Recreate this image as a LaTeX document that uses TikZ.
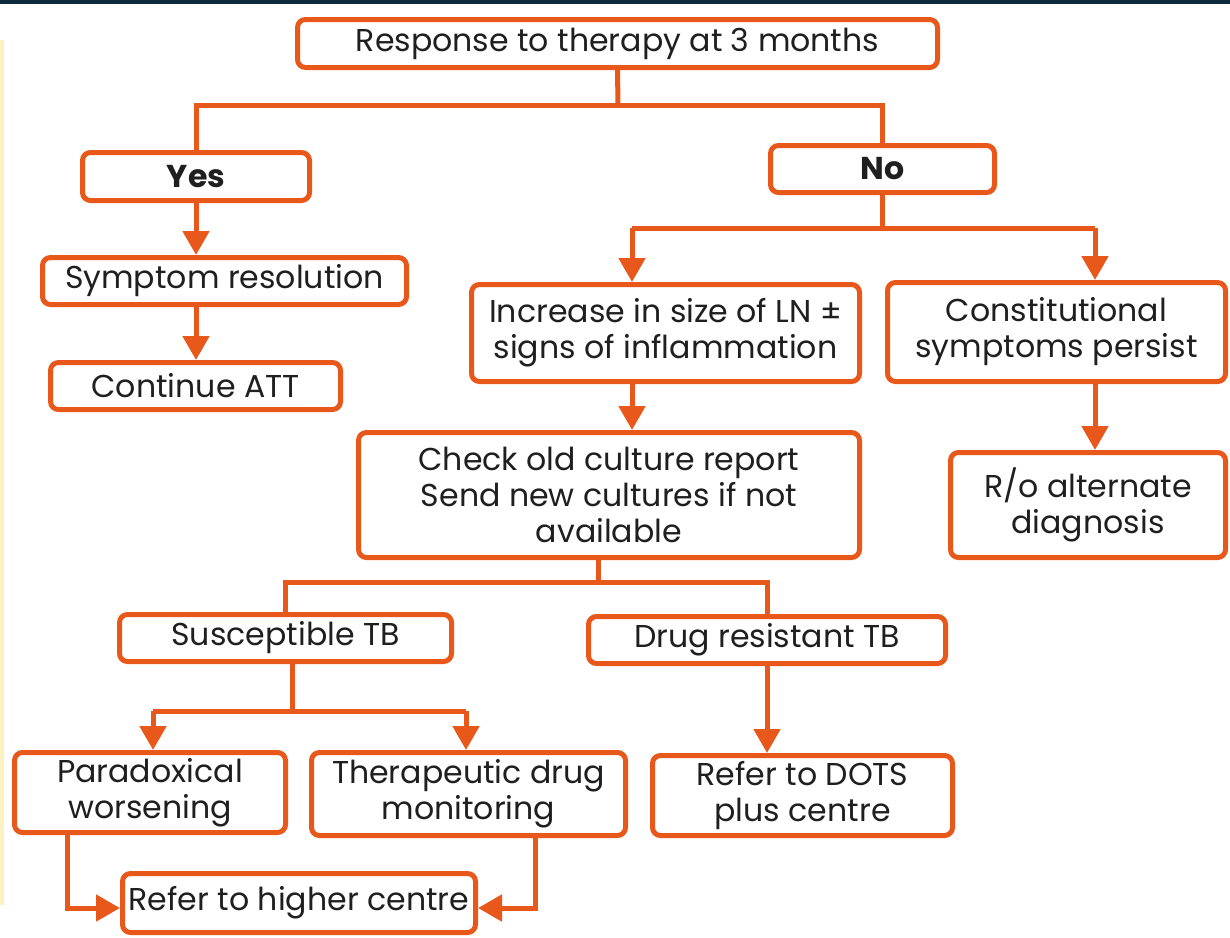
\documentclass[tikz,border=0pt]{standalone}
\usepackage{fontspec}
\setmainfont{Poppins}
\usetikzlibrary{arrows.meta,positioning,calc}
\definecolor{flow}{HTML}{E8581A}
\definecolor{ink}{HTML}{1F1F1F}
\definecolor{topbar}{HTML}{0B2A3D}
\definecolor{strip}{HTML}{FFF2C2}

\tikzset{
  box/.style={draw=flow, line width=2.5pt, rounded corners=4pt, fill=white, text=ink, align=center, inner sep=2pt, font=\fontsize{15.8}{18}\selectfont},
  link/.style={draw=flow, line width=2.5pt},
  arr/.style={link, -{Triangle[width=13pt,length=12pt]}},
}

\begin{document}
\begin{tikzpicture}[x=0.5pt, y=-0.5pt]
  \useasboundingbox (0,0) rectangle (1230,937);
  \fill[topbar] (0,0) rectangle (1230,4);
  \fill[strip] (0,40) rectangle (4,905);

  % top level
  \node[box, minimum width=320pt, minimum height=24pt] (resp) at (617.5,43.5) {Response to therapy at 3 months};
  \node[box, minimum width=113.5pt, minimum height=24pt] (yes) at (196,176.5) {\bfseries Yes};
  \node[box, minimum width=112pt, minimum height=23.5pt] (no) at (882.5,169) {\bfseries No};

  % yes branch
  \node[box, minimum width=182pt, minimum height=23.5pt] (symp) at (224.5,281) {Symptom resolution};
  \node[box, minimum width=145pt, minimum height=23.5pt] (cont) at (195.5,386) {Continue ATT};

  % no branch
  \node[box, minimum width=194pt, minimum height=48.5pt] (incr) at (665.5,333) {Increase in size of LN ±\\signs of inflammation};
  \node[box, minimum width=169pt, minimum height=49.5pt] (const) at (1056.5,332) {Constitutional\\symptoms persist};
  \node[box, minimum width=250.5pt, minimum height=62.5pt] (check) at (609,495) {Check old culture report\\Send new cultures if not\\available};
  \node[box, minimum width=137.5pt, minimum height=52.5pt] (ro) at (1088,505) {R/o alternate\\diagnosis};
  \node[box, minimum width=166pt, minimum height=23.5pt] (susc) at (285.5,638) {Susceptible TB};
  \node[box, minimum width=178.5pt, minimum height=23.5pt] (drug) at (767,640) {Drug resistant TB};
  \node[box, minimum width=135.5pt, minimum height=40pt] (para) at (150,792.5) {Paradoxical\\worsening};
  \node[box, minimum width=157pt, minimum height=41.5pt] (ther) at (468.5,794) {Therapeutic drug\\monitoring};
  \node[box, minimum width=150pt, minimum height=40pt] (dots) at (802.5,795.5) {Refer to DOTS\\plus centre};
  \node[box, minimum width=176.5pt, minimum height=29.5pt] (high) at (299,903) {Refer to higher centre};

  % split points
  \coordinate (rs) at (618,105);
  \coordinate (nl) at (632,228);
  \coordinate (nr) at (1095,228);
  \coordinate (cm) at (598,582);
  \coordinate (sm) at (292,711);
  \coordinate (sl) at (153,711);
  \coordinate (sr) at (466,711);
  \coordinate (pl) at (67,908);
  \coordinate (pr) at (535,908);

  \draw[link] (resp.south) -- (rs);
  \draw[link] (rs) -| (yes.north);
  \draw[link] (rs) -| (no.north);
  \draw[arr] (yes.south) -- (yes.south |- symp.north);
  \draw[arr] (yes.south |- symp.south) -- (yes.south |- cont.north);

  \draw[link] (no.south) -- (no.south |- nl);
  \draw[link] (nl) -- (nr);
  \draw[arr] (nl) -- (nl |- incr.north);
  \draw[arr] (nr) -- (nr |- const.north);
  \draw[arr] (nl |- incr.south) -- (nl |- check.north);
  \draw[arr] (nr |- const.south) -- (nr |- ro.north);

  \draw[link] (cm |- check.south) -- (cm);
  \draw[link] (cm) -| (susc.north);
  \draw[link] (cm) -| (drug.north);

  \draw[link] (sm |- susc.south) -- (sm);
  \draw[link] (sl) -- (sr);
  \draw[arr] (sl) -- (sl |- para.north);
  \draw[arr] (sr) -- (sr |- ther.north);
  \draw[arr] (drug.south) -- (drug.south |- dots.north);

  \draw[arr] (pl |- para.south) -- (pl) -- (pl -| high.west);
  \draw[arr] (pr |- ther.south) -- (pr) -- (pr -| high.east);
\end{tikzpicture}
\end{document}
